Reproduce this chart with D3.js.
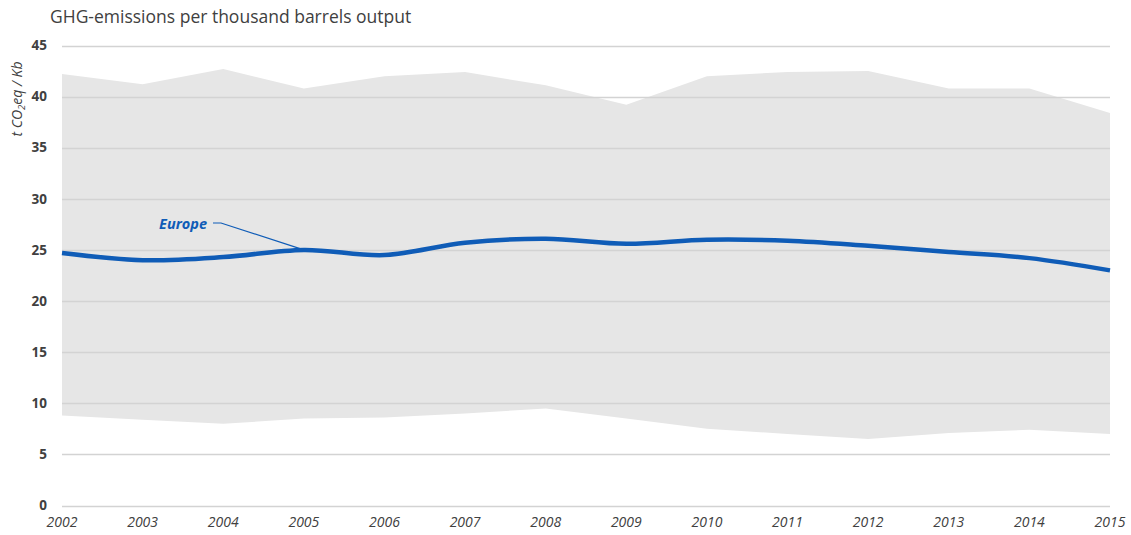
<!DOCTYPE html>
<html><head><meta charset="utf-8">
<script src="https://cdn.jsdelivr.net/npm/d3@7"></script>
<style>body{margin:0;background:#fff}svg{display:block}</style>
</head><body>
<svg id="c" width="1131" height="535"></svg>
<script>
const years = [2002,2003,2004,2005,2006,2007,2008,2009,2010,2011,2012,2013,2014,2015];
const upper = [42.2,41.2,42.7,40.8,42.0,42.4,41.1,39.2,42.0,42.4,42.5,40.8,40.8,38.4];
const lower = [8.8,8.4,8.0,8.5,8.6,9.0,9.5,8.5,7.5,7.0,6.5,7.1,7.4,7.0];
const europe = [24.7,24.0,24.3,25.0,24.5,25.7,26.1,25.6,26.0,25.9,25.4,24.8,24.2,23.0];
const yTicks = [0,5,10,15,20,25,30,35,40,45];
const title = "GHG-emissions per thousand barrels output";

const svg = d3.select("#c");
const x = d3.scaleLinear().domain([2002,2015]).range([62,1110]);
const y = d3.scaleLinear().domain([0,45]).range([505.5,45.5]);
const font = "'Open Sans', 'Liberation Sans', sans-serif";

// band
svg.append("path")
  .datum(years.map((yr,i)=>({yr,lo:lower[i],hi:upper[i]})))
  .attr("fill","#e6e6e6")
  .attr("d", d3.area().x(d=>x(d.yr)).y0(d=>y(d.lo)).y1(d=>y(d.hi)));

// gridlines
svg.append("g").selectAll("line").data(yTicks).join("line")
  .attr("x1",x(2002)).attr("x2",x(2015))
  .attr("y1",d=>Math.round(y(d))+0.5).attr("y2",d=>Math.round(y(d))+0.5)
  .attr("stroke","#d3d3d3").attr("stroke-width",1.3);

// y labels
svg.append("g").selectAll("text").data(yTicks).join("text")
  .attr("x",47).attr("y",d=>y(d)).attr("dy","0.35em")
  .attr("text-anchor","end")
  .attr("font-family",font).attr("font-size",13.5).attr("font-weight","bold")
  .attr("fill","#404040").text(d=>d);

// x labels
svg.append("g").selectAll("text").data(years).join("text")
  .attr("x",d=>x(d)).attr("y",527)
  .attr("text-anchor","middle")
  .attr("font-family",font).attr("font-size",14).attr("font-style","italic")
  .attr("fill","#404040").text(d=>d);

// europe line
svg.append("path")
  .datum(years.map((yr,i)=>({yr,v:europe[i]})))
  .attr("fill","none").attr("stroke","#0f5cb7").attr("stroke-width",4.5)
  .attr("stroke-linejoin","round")
  .attr("d", d3.line().x(d=>x(d.yr)).y(d=>y(d.v)).curve(d3.curveCatmullRom.alpha(0.5)));

// Europe annotation
svg.append("path")
  .attr("d",`M213,223 L221,223 L${x(2005)},${y(europe[3])}`)
  .attr("fill","none").attr("stroke","#0f5cb7").attr("stroke-width",1.2);
svg.append("text").attr("x",207).attr("y",229).attr("text-anchor","end")
  .attr("font-family",font).attr("font-size",14.5).attr("font-weight","bold").attr("font-style","italic")
  .attr("fill","#0f5cb7").text("Europe");

// title
svg.append("text").attr("x",50).attr("y",23)
  .attr("font-family",font).attr("font-size",17.5)
  .attr("fill","#404040").text(title);

// y-axis title
const yt = svg.append("text").attr("transform","translate(22,99) rotate(-90)")
  .attr("text-anchor","middle")
  .attr("font-family",font).attr("font-size",14).attr("font-style","italic")
  .attr("fill","#404040");
yt.append("tspan").text("t CO");
yt.append("tspan").attr("font-size",9.5).attr("dy",3).text("2");
yt.append("tspan").attr("dy",-3).text("eq / Kb");
</script>
</body></html>
